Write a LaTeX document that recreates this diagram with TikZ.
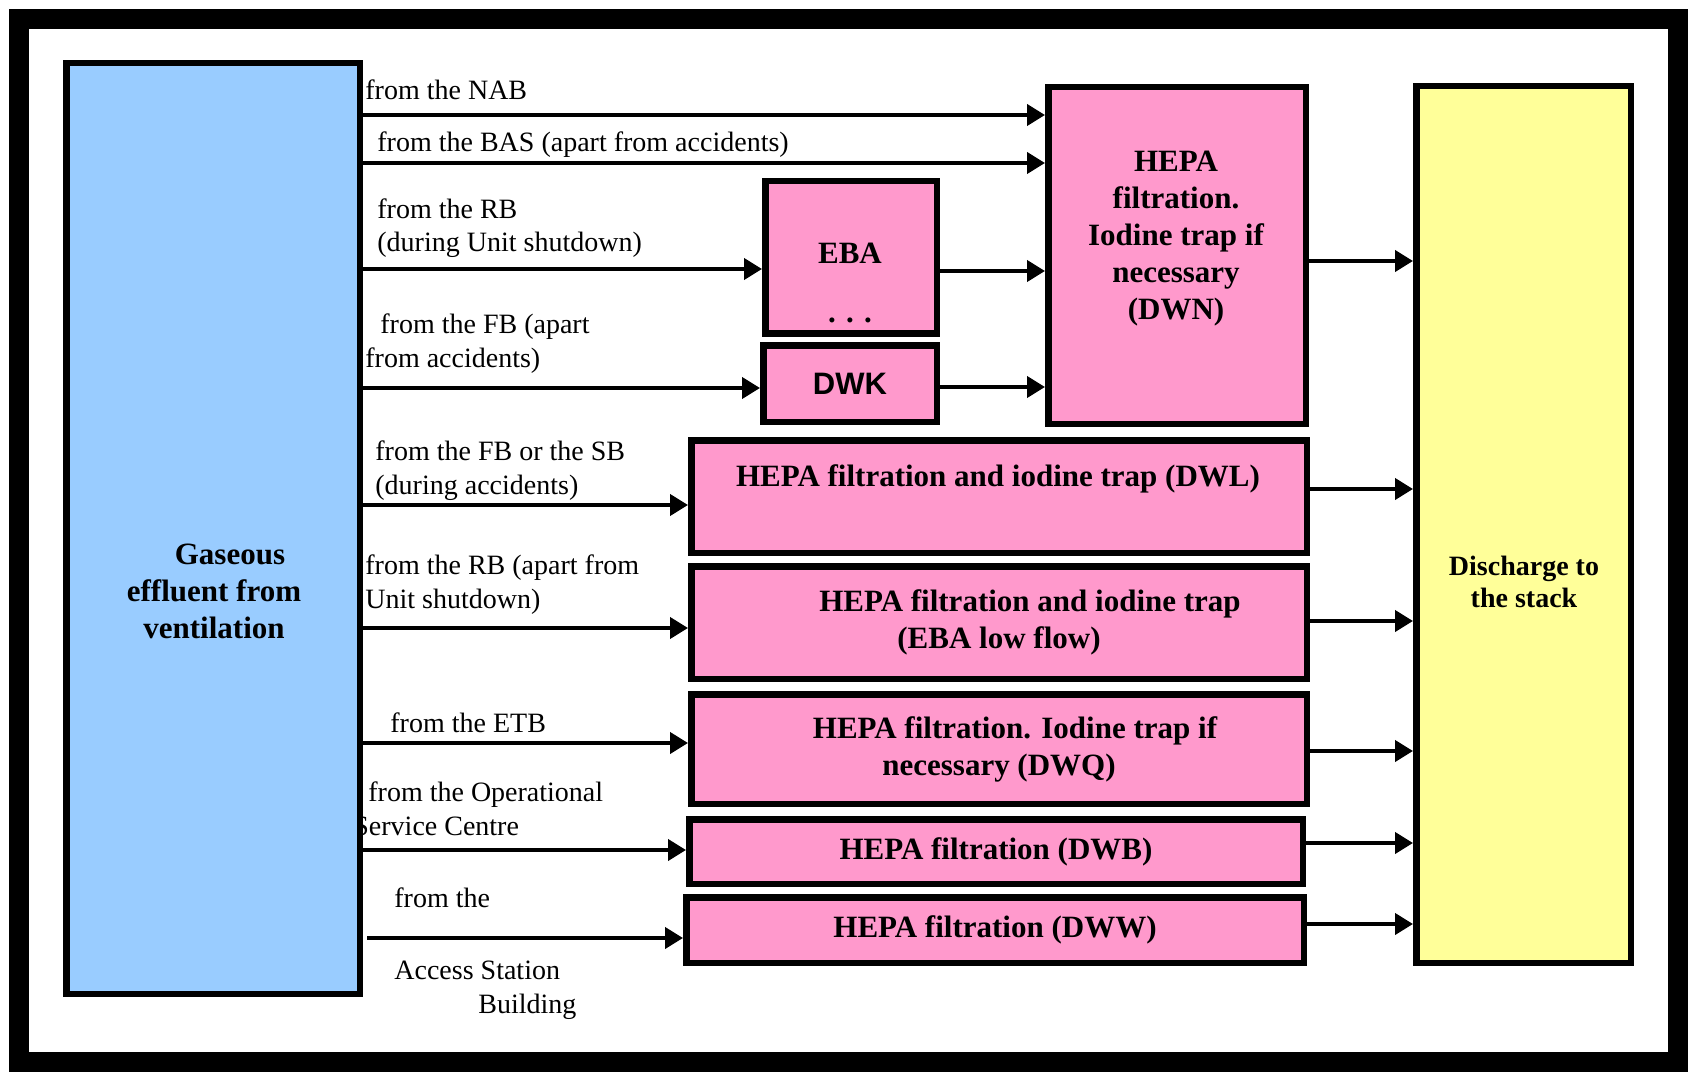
\documentclass[tikz,border=0pt]{standalone}
\usepackage{fontspec}
\setmainfont{Liberation Serif}
\newfontfamily\dwkfont{Liberation Sans}
\usepackage{tikz}
\usetikzlibrary{arrows.meta}
\definecolor{ventblue}{RGB}{153,204,255}
\definecolor{filterpink}{RGB}{255,153,204}
\definecolor{stackyellow}{RGB}{255,255,153}
\tikzstyle{Box}=[rectangle, draw=black, line width=3.25pt, inner sep=0pt, align=center, font=\bfseries\fontsize{15.5}{18.5}\selectfont]
\tikzstyle{Src}=[anchor=base west, align=left, inner sep=0pt, font=\fontsize{14}{17}\selectfont]
\tikzstyle{Txt}=[align=center, inner sep=0pt, font=\bfseries\fontsize{15.5}{18.5}\selectfont]
\tikzstyle{Flow}=[-{Triangle[length=9pt,width=10.5pt]}, line width=2pt]

\begin{document}
\begin{tikzpicture}[x=0.5pt, y=-0.5pt]
    \useasboundingbox (0,0) rectangle (1692,1075);
    \draw[line width=10pt] (19,19.5) rectangle (1678,1061.5);

    % where the air comes from (base = last line)
    \path
    (365,100) node[Src] (nab) {from the NAB}
    (377,152) node[Src] (bas) {from the BAS (apart from accidents)}
    (377,252) node[Src] (rbshut) {from the RB\\(during Unit shutdown)}
    (365,367) node[Src] (fbapart) {\hspace*{7.5pt}from the FB (apart\\from accidents)}
    (375,494) node[Src] (fbsb) {from the FB or the SB\\(during accidents)}
    (365,608) node[Src] (rbapart) {from the RB (apart from\\Unit shutdown)}
    (390,732) node[Src] (etb) {from the ETB}
    (353,835) node[Src] (osc) {\hspace*{7.5pt}from the Operational\\Service Centre}
    (394,907) node[Src] (fromthe) {from the}
    (394,1013) node[Src] (access) {Access Station\\\hspace*{42pt}Building};

    \path
    (213,528.5) node[Box, fill=ventblue, minimum width=146.75pt, minimum height=465.25pt] (vent) {}
    (851,257.5) node[Box, fill=filterpink, minimum width=85.75pt, minimum height=76.25pt] (eba) {}
    (850,383.5) node[Box, fill=filterpink, minimum width=86.75pt, minimum height=38.25pt, font=\dwkfont\bfseries\fontsize{15.5}{18.5}\selectfont] (dwk) {DWK}
    (1177,255.5) node[Box, fill=filterpink, minimum width=128.75pt, minimum height=168.25pt] (dwn) {}
    (999,496.5) node[Box, fill=filterpink, minimum width=307.75pt, minimum height=56.25pt] (dwl) {}
    (999,622.5) node[Box, fill=filterpink, minimum width=307.75pt, minimum height=56.25pt] (ebalow) {\hspace*{31pt}HEPA filtration and iodine trap\\(EBA low flow)}
    (999,749) node[Box, fill=filterpink, minimum width=307.75pt, minimum height=54.75pt] (dwq) {\hspace*{16pt}HEPA filtration. Iodine trap if\\necessary (DWQ)}
    (996,851.5) node[Box, fill=filterpink, minimum width=306.75pt, minimum height=32.25pt] (dwb) {HEPA filtration (DWB)}
    (995,930) node[Box, fill=filterpink, minimum width=308.75pt, minimum height=32.75pt] (dww) {HEPA filtration (DWW)}
    (1523.5,524.5) node[Box, fill=stackyellow, minimum width=107.25pt, minimum height=438.25pt] (stack) {};

    % texts placed off the box centres
    \path
    (214,591) node[Txt] (venttext) {\hspace*{16pt}Gaseous\\effluent from\\ventilation}
    (850,283) node[Txt] (ebatext) {EBA\\[11pt]. . .}
    (1176,239) node[Txt] (dwntext) {HEPA\\filtration.\\Iodine trap if\\necessary\\(DWN)}
    (998,479) node[Txt] (dwltext) {HEPA filtration and iodine trap (DWL)}
    (1524,582) node[Txt, font=\bfseries\fontsize{14}{16}\selectfont] (stacktext) {Discharge to\\the stack};

    \draw[Flow] (vent.east |- 0,115) -- (dwn.west |- 0,115);
    \draw[Flow] (vent.east |- 0,163) -- (dwn.west |- 0,163);
    \draw[Flow] (vent.east |- 0,269) -- (eba.west |- 0,269);
    \draw[Flow] (vent.east |- 0,388) -- (dwk.west |- 0,388);
    \draw[Flow] (eba.east |- 0,271) -- (dwn.west |- 0,271);
    \draw[Flow] (dwk.east |- 0,387) -- (dwn.west |- 0,387);
    \draw[Flow] (vent.east |- 0,505) -- (dwl.west |- 0,505);
    \draw[Flow] (vent.east |- 0,628) -- (ebalow.west |- 0,628);
    \draw[Flow] (vent.east |- 0,743) -- (dwq.west |- 0,743);
    \draw[Flow] (vent.east |- 0,850) -- (dwb.west |- 0,850);
    \draw[Flow] ([xshift=2pt]vent.east |- 0,938) -- (dww.west |- 0,938);
    \draw[Flow] (dwn.east |- 0,261) -- (stack.west |- 0,261);
    \draw[Flow] (dwl.east |- 0,489) -- (stack.west |- 0,489);
    \draw[Flow] (ebalow.east |- 0,621) -- (stack.west |- 0,621);
    \draw[Flow] (dwq.east |- 0,751) -- (stack.west |- 0,751);
    \draw[Flow] (dwb.east |- 0,843) -- (stack.west |- 0,843);
    \draw[Flow] (dww.east |- 0,924) -- (stack.west |- 0,924);
\end{tikzpicture}
\end{document}
